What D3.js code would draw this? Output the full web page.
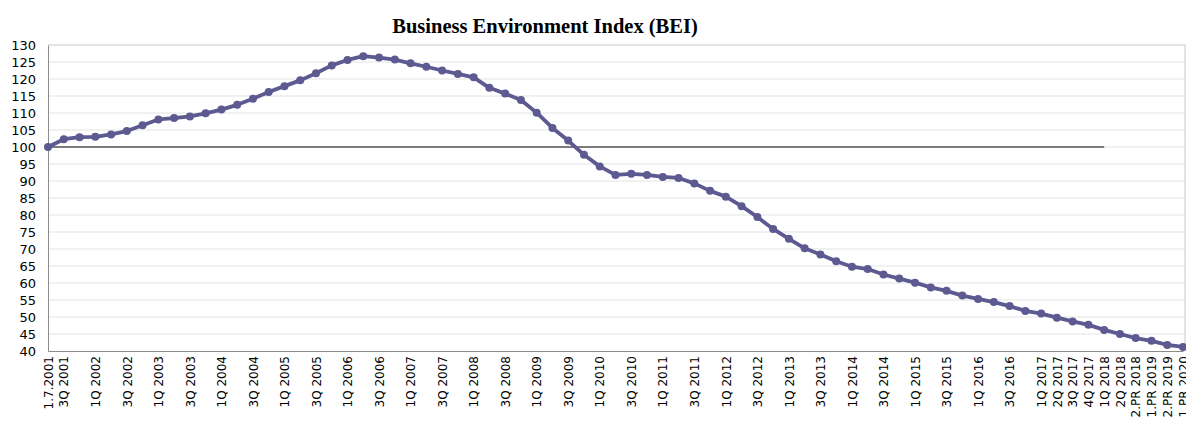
<!DOCTYPE html>
<html>
<head>
<meta charset="utf-8">
<script src="https://cdn.jsdelivr.net/npm/d3@7"></script>
<style>
  html, body { margin: 0; padding: 0; background: #ffffff; }
  svg { display: block; }
</style>
</head>
<body>
<svg id="chart" width="1186" height="423"></svg>
<script>
// Quarterly observation periods (half-years at the end)
const categories = [
  "1.7.2001", "3Q 2001", "4Q 2001",
  "1Q 2002", "2Q 2002", "3Q 2002", "4Q 2002",
  "1Q 2003", "2Q 2003", "3Q 2003", "4Q 2003",
  "1Q 2004", "2Q 2004", "3Q 2004", "4Q 2004",
  "1Q 2005", "2Q 2005", "3Q 2005", "4Q 2005",
  "1Q 2006", "2Q 2006", "3Q 2006", "4Q 2006",
  "1Q 2007", "2Q 2007", "3Q 2007", "4Q 2007",
  "1Q 2008", "2Q 2008", "3Q 2008", "4Q 2008",
  "1Q 2009", "2Q 2009", "3Q 2009", "4Q 2009",
  "1Q 2010", "2Q 2010", "3Q 2010", "4Q 2010",
  "1Q 2011", "2Q 2011", "3Q 2011", "4Q 2011",
  "1Q 2012", "2Q 2012", "3Q 2012", "4Q 2012",
  "1Q 2013", "2Q 2013", "3Q 2013", "4Q 2013",
  "1Q 2014", "2Q 2014", "3Q 2014", "4Q 2014",
  "1Q 2015", "2Q 2015", "3Q 2015", "4Q 2015",
  "1Q 2016", "2Q 2016", "3Q 2016", "4Q 2016",
  "1Q 2017", "2Q 2017", "3Q 2017", "4Q 2017",
  "1Q 2018", "2Q 2018",
  "2.PR 2018", "1.PR 2019", "2.PR 2019", "1.PR 2020"
];

// Business Environment Index values (1.7.2001 = 100)
const beiValues = [
  100.0, 102.3, 102.9,
  103.0, 103.7, 104.7, 106.4,
  108.1, 108.5, 109.0, 109.9,
  111.0, 112.4, 114.2, 116.2,
  117.9, 119.6, 121.7, 124.0,
  125.6, 126.7, 126.3, 125.7,
  124.6, 123.6, 122.5, 121.5,
  120.5, 117.4, 115.7, 113.8,
  110.1, 105.6, 101.9, 97.7,
  94.3, 91.8, 92.1, 91.8,
  91.2, 90.9, 89.3, 87.1,
  85.4, 82.6, 79.4, 75.9,
  73.0, 70.2, 68.4, 66.4,
  64.8, 64.1, 62.5, 61.3,
  60.1, 58.7, 57.7, 56.3,
  55.3, 54.4, 53.2, 51.8,
  51.0, 49.8, 48.7, 47.7,
  46.2, 45.0,
  43.8, 43.0, 41.8, 41.2
];

// Reference level line (base = 100)
const baseValue = 100;
const baseFrom = "1.7.2001";
const baseTo = "1Q 2018";

// Labels shown on the category axis
const tickLabels = [
  "1.7.2001", "3Q 2001",
  "1Q 2002", "3Q 2002", "1Q 2003", "3Q 2003", "1Q 2004", "3Q 2004",
  "1Q 2005", "3Q 2005", "1Q 2006", "3Q 2006", "1Q 2007", "3Q 2007",
  "1Q 2008", "3Q 2008", "1Q 2009", "3Q 2009", "1Q 2010", "3Q 2010",
  "1Q 2011", "3Q 2011", "1Q 2012", "3Q 2012", "1Q 2013", "3Q 2013",
  "1Q 2014", "3Q 2014", "1Q 2015", "3Q 2015", "1Q 2016", "3Q 2016",
  "1Q 2017", "2Q 2017", "3Q 2017", "4Q 2017", "1Q 2018", "2Q 2018",
  "2.PR 2018", "1.PR 2019", "2.PR 2019", "1.PR 2020"
];

const yTicks = [40, 45, 50, 55, 60, 65, 70, 75, 80, 85, 90, 95, 100, 105, 110, 115, 120, 125, 130];

const svg = d3.select("#chart");
const plotLeft = 48, plotRight = 1183, plotTop = 45, plotBottom = 351;

const x = d3.scalePoint().domain(categories).range([plotLeft, plotRight]);
const y = d3.scaleLinear().domain([40, 130]).range([plotBottom, plotTop]);

// Title
svg.append("text")
  .attr("x", 545)
  .attr("y", 33)
  .attr("text-anchor", "middle")
  .style("font-family", "'Liberation Serif', 'Times New Roman', serif")
  .style("font-weight", "bold")
  .style("font-size", "20.5px")
  .style("fill", "#000")
  .text("Business Environment Index (BEI)");

// Horizontal gridlines
svg.append("g")
  .selectAll("line")
  .data(yTicks.filter(d => d > 40))
  .join("line")
  .attr("x1", plotLeft).attr("x2", 1185)
  .attr("y1", d => y(d)).attr("y2", d => y(d))
  .attr("stroke", d => d === 130 ? "#c8c8c8" : "#e3e3e3")
  .attr("stroke-width", 1);

// Right border of plot area
svg.append("line")
  .attr("x1", 1185).attr("x2", 1185)
  .attr("y1", plotTop).attr("y2", plotBottom)
  .attr("stroke", "#c8c8c8");

// Y axis
const yAxis = d3.axisLeft(y).tickValues(yTicks).tickSize(0).tickPadding(12);
const gy = svg.append("g").attr("transform", `translate(${plotLeft},0)`).call(yAxis);
gy.select(".domain").attr("stroke", "#8c8c8c").attr("stroke-width", 1);
gy.selectAll("text")
  .style("font-family", "'DejaVu Sans', Verdana, sans-serif")
  .style("font-size", "13px")
  .style("fill", "#000");

// X axis
const xAxis = d3.axisBottom(x).tickValues(tickLabels).tickSize(0).tickPadding(0);
const gx = svg.append("g").attr("transform", `translate(0,${plotBottom})`).call(xAxis);
gx.select(".domain").attr("stroke", "#8c8c8c").attr("stroke-width", 1);
gx.selectAll("text")
  .style("font-family", "'DejaVu Sans', Verdana, sans-serif")
  .style("font-size", "12px")
  .style("fill", "#000")
  .attr("text-anchor", "end")
  .attr("transform", "translate(0,5) rotate(-90)")
  .attr("x", 0)
  .attr("y", 0)
  .attr("dy", "0.35em");

// Reference line at 100
svg.append("line")
  .attr("x1", x(baseFrom)).attr("x2", x(baseTo))
  .attr("y1", y(baseValue)).attr("y2", y(baseValue))
  .attr("stroke", "#555555")
  .attr("stroke-width", 1.6);

// BEI line and markers
const series = categories.map((c, i) => ({ c, v: beiValues[i] }));
const line = d3.line().x(d => x(d.c)).y(d => y(d.v));

svg.append("path")
  .datum(series)
  .attr("d", line)
  .attr("fill", "none")
  .attr("stroke", "#5d5991")
  .attr("stroke-width", 3.8)
  .attr("stroke-linejoin", "round");

svg.append("g")
  .selectAll("circle")
  .data(series)
  .join("circle")
  .attr("cx", d => x(d.c))
  .attr("cy", d => y(d.v))
  .attr("r", 4)
  .attr("fill", "#5d5991");
</script>
</body>
</html>
